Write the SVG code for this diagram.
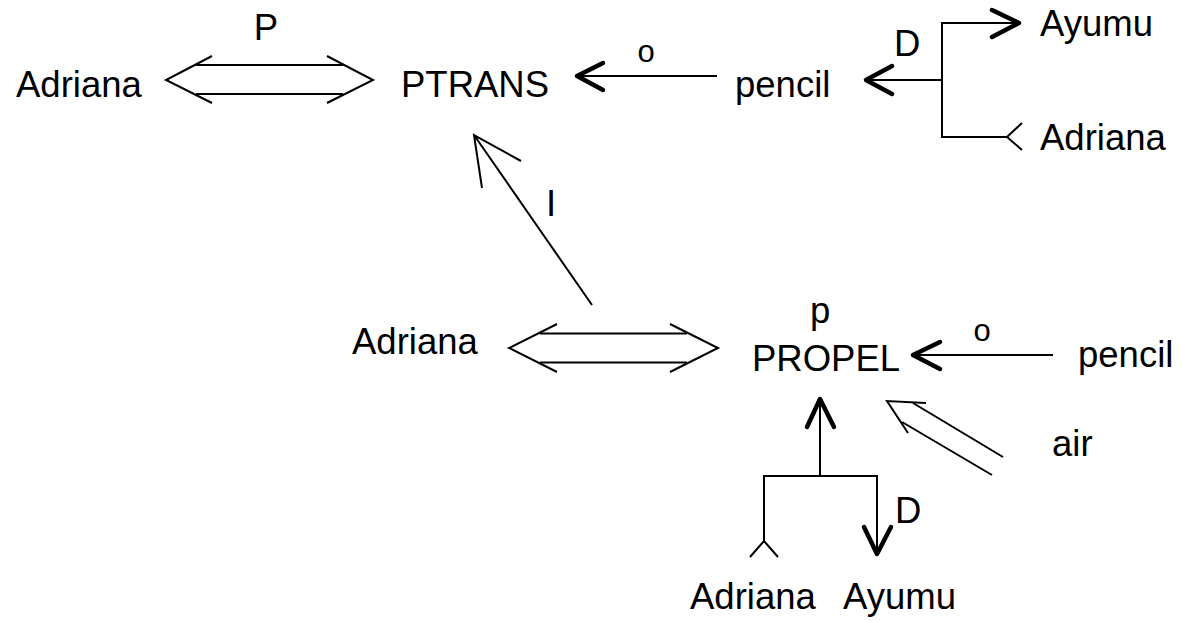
<svg xmlns="http://www.w3.org/2000/svg" width="1192" height="622" viewBox="0 0 1192 622">
<style>
  text { font-family: "Liberation Sans", Arial, sans-serif; font-size: 36.5px; fill: #000; }
  .sm { font-size: 31px; }
  .ln { fill: none; stroke: #000; stroke-width: 2; stroke-linecap: butt; stroke-linejoin: miter; }
  .hd { fill: none; stroke: #000; stroke-width: 4.5; stroke-linecap: round; stroke-linejoin: round; }
</style>
<rect width="1192" height="622" fill="#fff"/>
<g id="connectors">
  <!-- Adriana <=> PTRANS -->
  <path class="ln" d="M196 65 H343 M196 94 H343"/>
  <path class="ln" d="M212 56 L166 80 L212 103 M327 56 L373 80 L327 103"/>
  <!-- pencil -> PTRANS (o) -->
  <path class="ln" d="M717 76 H578"/>
  <path class="hd" d="M603 63 L577 76 L603 90"/>
  <!-- D branch top right -->
  <path class="ln" d="M942 80 H867 M942 22.5 V137 M941 23 H1018 M941 137 H1007"/>
  <path class="hd" d="M892 66 L866 80 L892 94"/>
  <path class="hd" d="M992 10 L1019 23 L992 37"/>
  <path class="ln" d="M1022 123 L1007 137 L1022 150"/>
  <!-- I arrow -->
  <path class="ln" d="M592 305 L474 135 M482 188 L474 135 L521 161"/>
  <!-- Adriana <=> PROPEL -->
  <path class="ln" d="M540 333.5 H687 M540 362.5 H687"/>
  <path class="ln" d="M557 324 L509 348 L557 372 M670 324 L718 348 L670 372"/>
  <!-- pencil -> PROPEL (o) -->
  <path class="ln" d="M1053 355 H915"/>
  <path class="hd" d="M940 342 L913 355 L940 369"/>
  <!-- air double arrow -->
  <path class="ln" d="M913 403 L1003 457 M902 422 L992 475"/>
  <path class="ln" d="M926 403 L887 401 L908 433"/>
  <!-- bottom branch -->
  <path class="ln" d="M820 477 V401 M763 476 H878 M764 475 V541 M877 475 V552"/>
  <path class="hd" d="M807 427 L820 399 L834 427"/>
  <path class="hd" d="M864 527 L877 554 L891 527"/>
  <path class="ln" d="M750 557 L764 541 L778 557"/>
</g>
<g id="node-adriana-1"><text x="16" y="97">Adriana</text></g>
<g id="label-P"><text x="266" y="40" text-anchor="middle">P</text></g>
<g id="node-ptrans"><text x="401" y="97">PTRANS</text></g>
<g id="label-o-1"><text class="sm" x="646" y="62" text-anchor="middle">o</text></g>
<g id="node-pencil-1"><text x="735" y="97">pencil</text></g>
<g id="label-D-1"><text x="894" y="56">D</text></g>
<g id="node-ayumu-1"><text x="1040" y="36">Ayumu</text></g>
<g id="node-adriana-2"><text x="1040" y="150">Adriana</text></g>
<g id="label-I"><text x="546" y="216">I</text></g>
<g id="node-adriana-3"><text x="352" y="354">Adriana</text></g>
<g id="label-p"><text x="810" y="323">p</text></g>
<g id="node-propel"><text x="752" y="371">PROPEL</text></g>
<g id="label-o-2"><text class="sm" x="982" y="341" text-anchor="middle">o</text></g>
<g id="node-pencil-2"><text x="1078" y="367">pencil</text></g>
<g id="node-air"><text x="1052" y="456">air</text></g>
<g id="label-D-2"><text x="895" y="523">D</text></g>
<g id="node-adriana-4"><text x="690" y="609">Adriana</text></g>
<g id="node-ayumu-2"><text x="843" y="609">Ayumu</text></g>
</svg>
